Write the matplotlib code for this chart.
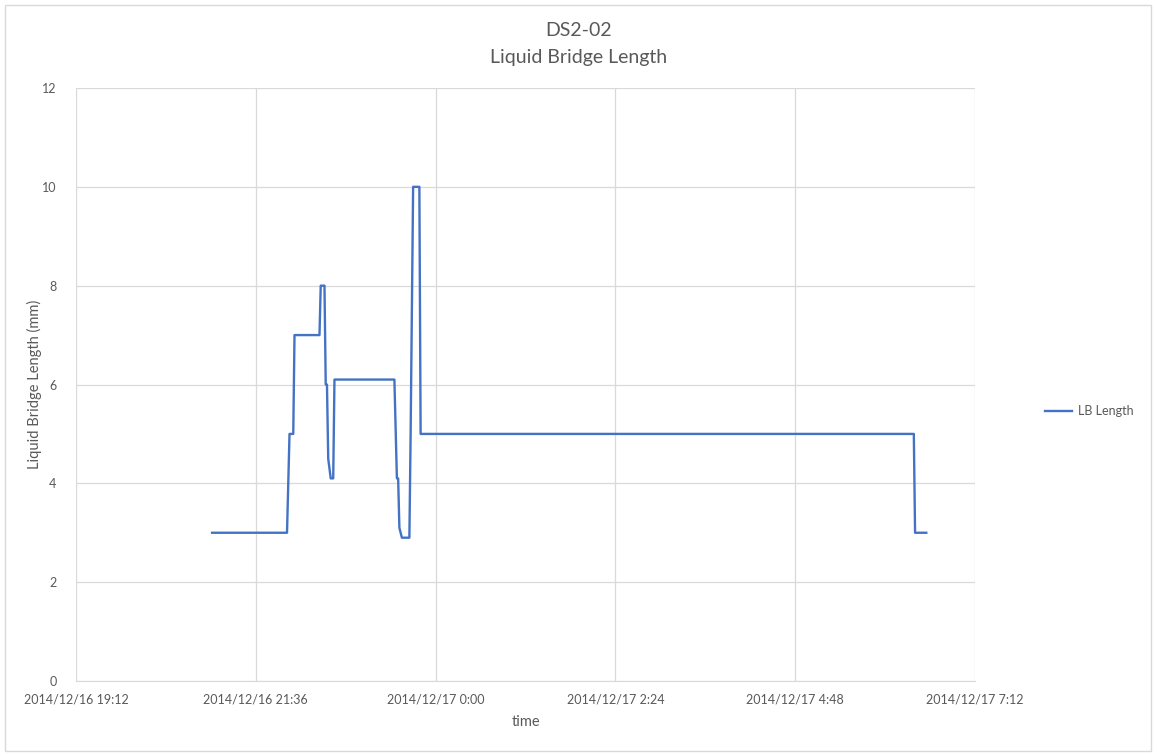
import datetime as dt
import matplotlib
matplotlib.use("Agg")
import matplotlib.pyplot as plt
import matplotlib.dates as mdates
from matplotlib.patches import Rectangle

plt.rcParams['font.family'] = ['Lato', 'DejaVu Sans']

# data
times = [
    "2014-12-16 21:01", "2014-12-16 22:01", "2014-12-16 22:03", "2014-12-16 22:06",
    "2014-12-16 22:07", "2014-12-16 22:27", "2014-12-16 22:28", "2014-12-16 22:31",
    "2014-12-16 22:32", "2014-12-16 22:33", "2014-12-16 22:34", "2014-12-16 22:36",
    "2014-12-16 22:38", "2014-12-16 22:39", "2014-12-16 23:27", "2014-12-16 23:29",
    "2014-12-16 23:30", "2014-12-16 23:31", "2014-12-16 23:33", "2014-12-16 23:39",
    "2014-12-16 23:40", "2014-12-16 23:42", "2014-12-16 23:47", "2014-12-16 23:48",
    "2014-12-17 06:23", "2014-12-17 06:24", "2014-12-17 06:33",
]
lb_length = [
    3, 3, 5, 5,
    7, 7, 8, 8,
    6, 6, 4.5, 4.1,
    4.1, 6.1, 6.1, 4.1,
    4.1, 3.1, 2.9, 2.9,
    5, 10, 10, 5,
    5, 3, 3,
]
x_ticks = ["2014-12-16 19:12", "2014-12-16 21:36", "2014-12-17 00:00",
           "2014-12-17 02:24", "2014-12-17 04:48", "2014-12-17 07:12"]

t = [dt.datetime.strptime(s, "%Y-%m-%d %H:%M") for s in times]
ticks = [dt.datetime.strptime(s, "%Y-%m-%d %H:%M") for s in x_ticks]

text_color = '#595959'
grid_color = '#D9D9D9'

fig = plt.figure(figsize=(11.57, 7.56), dpi=100)
ax = fig.add_axes([76/1157, 1 - 681/756, (975-76)/1157, (681-88)/756])

ax.plot(t, lb_length, color='#4472C4', linewidth=1.7, label='LB Length')

ax.set_xlim(ticks[0], ticks[-1])
ax.set_ylim(0, 12)
ax.set_yticks(range(0, 13, 2))
ax.set_xticks(ticks)
ax.xaxis.set_major_formatter(mdates.DateFormatter('%Y/%m/%d %-H:%M'))
ax.grid(True, color=grid_color, linewidth=0.9)
ax.set_axisbelow(True)
for side in ['top', 'right', 'left']:
    ax.spines[side].set_visible(False)
ax.spines['bottom'].set_color(grid_color)
ax.tick_params(length=0, colors=text_color, labelsize=9, pad=9)
ax.tick_params(axis='y', pad=14)

ax.set_xlabel('time', color=text_color, fontsize=10.5, labelpad=7)
ax.set_ylabel('Liquid Bridge Length (mm)', color=text_color, fontsize=10.5, labelpad=0)

fig.text(0.5, 1 - 31/756, 'DS2-02', ha='center', va='center', fontsize=14, color=text_color)
fig.text(0.5, 1 - 57/756, 'Liquid Bridge Length', ha='center', va='center', fontsize=14, color=text_color)

ax.legend(loc='center left', bbox_to_anchor=(1.065, 0.455), frameon=False,
          fontsize=9, labelcolor=text_color, handlelength=2.2, handletextpad=0.5)

fig.patches.append(Rectangle((5/1157, 5/756), 1146/1157, 746/756, transform=fig.transFigure,
                             fill=False, edgecolor=grid_color, linewidth=1))

fig.savefig('out.png', dpi=100)
